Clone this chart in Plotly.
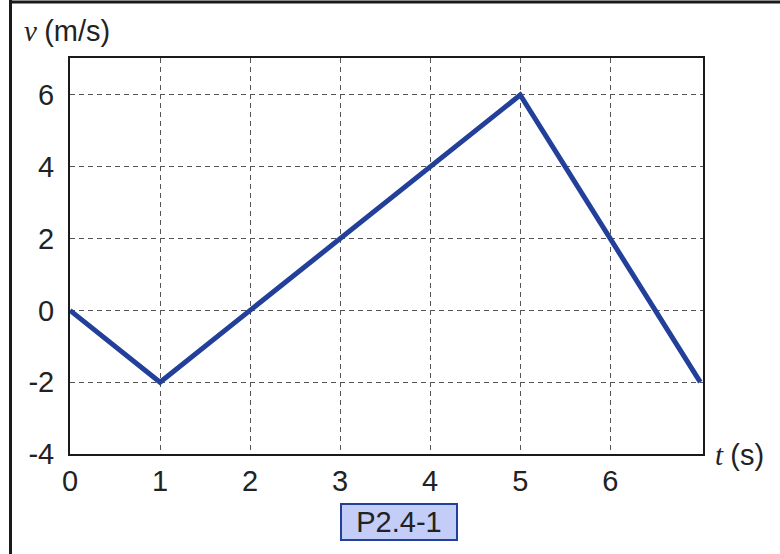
import plotly.graph_objects as go

t_vals = [0, 1, 5, 7]
v_vals = [0, -2, 6, -2]
x_ticks = [0, 1, 2, 3, 4, 5, 6]
y_ticks = [-4, -2, 0, 2, 4, 6]
y_tick_text = ["-4", "-2", "0", "2", "4", "6"]

fig = go.Figure()
fig.add_trace(go.Scatter(x=t_vals, y=v_vals, mode="lines",
                         line=dict(color="#22409a", width=5), hoverinfo="skip"))

axis_common = dict(showline=True, mirror=True, linecolor="#1a1a1a", linewidth=2,
                   showgrid=True, gridcolor="#555555", griddash="5px,4px", gridwidth=1,
                   zeroline=False, ticks="",
                   tickfont=dict(family="Liberation Sans, Arial", size=29, color="#222222"))

fig.update_xaxes(range=[0, 7.03], tickvals=x_ticks, ticklabelstandoff=0, **axis_common)
fig.update_yaxes(range=[-4, 7.03], tickvals=y_ticks, ticktext=y_tick_text,
                 ticklabelstandoff=8, **axis_common)

W, H = 633.0, 396.0
def px(x):
    return (x - 70) / W
def py(y):
    return (454 - y) / H

fig.update_layout(
    width=780, height=554,
    margin=dict(l=70, r=77, t=58, b=100, autoexpand=False),
    paper_bgcolor="white", plot_bgcolor="white",
    showlegend=False,
    annotations=[
        dict(text="<i>v</i> <span style='font-family:Liberation Sans, Arial'>(m/s)</span>",
             xref="paper", yref="paper", x=px(22), y=py(31), xanchor="left", yanchor="middle",
             showarrow=False, font=dict(family="Liberation Serif, Times New Roman", size=29, color="#222222")),
        dict(text="<i>t</i> <span style='font-family:Liberation Sans, Arial'>(s)</span>",
             xref="paper", yref="paper", x=px(713), y=py(455), xanchor="left", yanchor="middle",
             showarrow=False, font=dict(family="Liberation Serif, Times New Roman", size=29, color="#222222")),
        dict(text="P2.4-1", xref="paper", yref="paper", x=px(398.5), y=py(522),
             xanchor="center", yanchor="middle", showarrow=False, width=112, height=32,
             font=dict(family="Liberation Sans, Arial", size=29, color="#222222"),
             bgcolor="#c3cdf7", bordercolor="#22409a", borderwidth=2, borderpad=1),
    ],
    shapes=[
        dict(type="line", xref="paper", yref="paper", x0=px(10.5), x1=px(10.5), y0=py(0), y1=py(554),
             line=dict(color="#1a1a1a", width=3)),
        dict(type="line", xref="paper", yref="paper", x0=px(9), x1=px(780), y0=py(2), y1=py(2),
             line=dict(color="#1a1a1a", width=3)),
    ],
)

fig.write_html("out.html", config={"displayModeBar": False},
               post_script="document.body.style.margin='0';")
